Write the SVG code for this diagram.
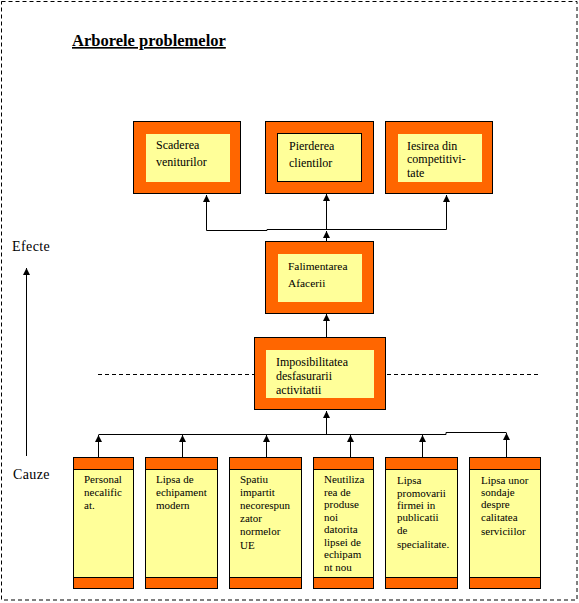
<svg xmlns="http://www.w3.org/2000/svg" width="579" height="603" viewBox="0 0 579 603">
<style>
.t12{font-size:12px}
.t11{font-size:11px}
.or{fill:#FF6600;stroke:#000;stroke-width:1}
.ye{fill:#FFFF99}
.yeb{fill:#FFFF99;stroke:#000;stroke-width:1}
.ln{fill:none;stroke:#000;stroke-width:1}
.ar{fill:none;stroke:#000;stroke-width:1;marker-end:url(#ah)}
.dash{fill:none;stroke:#000;stroke-width:1;stroke-dasharray:4 3}
</style>
<defs>
<marker id="ah" markerUnits="userSpaceOnUse" markerWidth="8" markerHeight="8" refX="7" refY="4" orient="auto">
<path d="M0,0.5 L7,4 L0,7.5 z" fill="#000"/>
</marker>
</defs>
<rect width="579" height="603" fill="#fff"/>
<rect x="1.5" y="1.5" width="575.5" height="598.5" class="dash"/>
<g font-family="'Liberation Serif', 'Times New Roman', 'DejaVu Serif', serif" fill="#000">
<g id="title">
<text x="72" y="46" font-size="16.5" font-weight="bold" text-decoration="underline">Arborele problemelor</text>
</g>
<g id="efecte"><text x="12" y="251" font-size="14" letter-spacing="0.4">Efecte</text></g>
<g id="cauze"><text x="13" y="479" font-size="14" letter-spacing="0.4">Cauze</text></g>
<g id="connectors">
<path class="ar" d="M26.5,456 V268"/>
<path class="ln" d="M206.5,230.5 H267 V229.5 H446.5"/>
<path class="ar" d="M206.5,230.5 V195"/>
<path class="ar" d="M326.5,229.5 V194"/>
<path class="ar" d="M446.5,229.5 V195"/>
<path class="ar" d="M326.5,242 V231"/>
<path class="ar" d="M326.5,337 V314"/>
<path class="ln" d="M98.5,434.5 H446 V432.5 H506.5"/>
<path class="ar" d="M326.5,434.5 V411"/>
<path class="ar" d="M98.5,457 V435"/>
<path class="ar" d="M182.5,457 V435"/>
<path class="ar" d="M266.5,457 V435"/>
<path class="ar" d="M350.5,457 V435"/>
<path class="ar" d="M422.5,457 V435"/>
<path class="ar" d="M506.5,457 V433"/>
<path class="dash" d="M98,374.5 H254 M387,374.5 H540"/>
</g>
<g id="scaderea">
<rect class="or" x="133.5" y="121.5" width="107" height="72"/>
<rect class="ye" x="146" y="134" width="84" height="48"/>
<text class="t12" x="156" y="149">Scaderea</text>
<text class="t12" x="156" y="166">veniturilor</text>
</g>
<g id="pierderea">
<rect class="or" x="265.5" y="121.5" width="108" height="72"/>
<rect class="yeb" x="277.5" y="133.5" width="84" height="48"/>
<text class="t12" x="289" y="150">Pierderea</text>
<text class="t12" x="289" y="167">clientilor</text>
</g>
<g id="iesirea">
<rect class="or" x="385.5" y="121.5" width="107" height="72"/>
<rect class="ye" x="398" y="134" width="84" height="48"/>
<text class="t12" x="407" y="150">Iesirea din</text>
<text class="t12" x="407" y="163">competitivi-</text>
<text class="t12" x="407" y="177">tate</text>
</g>
<g id="falimentarea">
<rect class="or" x="265.5" y="241.5" width="108" height="72"/>
<rect class="ye" x="278" y="254" width="84" height="48"/>
<text x="288" y="270" font-size="11.4">Falimentarea</text>
<text x="288" y="287" font-size="11.4">Afacerii</text>
</g>
<g id="imposibilitatea">
<rect class="or" x="254.5" y="337.5" width="131" height="72"/>
<rect class="ye" x="266" y="350" width="108" height="48"/>
<text class="t12" x="276" y="366">Imposibilitatea</text>
<text class="t12" x="276" y="380">desfasurarii</text>
<text class="t12" x="276" y="394">activitatii</text>
</g>
<g id="personal">
<rect class="yeb" x="73.5" y="457.5" width="60" height="131"/>
<rect class="or" x="73.5" y="457.5" width="60" height="12"/>
<rect class="or" x="73.5" y="577.5" width="60" height="11"/>
<text class="t11" x="84" y="483">Personal</text>
<text class="t11" x="84" y="496">necalific</text>
<text class="t11" x="84" y="509">at.</text>
</g>
<g id="lipsa-echipament">
<rect class="yeb" x="145.5" y="457.5" width="72" height="131"/>
<rect class="or" x="145.5" y="457.5" width="72" height="12"/>
<rect class="or" x="145.5" y="577.5" width="72" height="11"/>
<text class="t11" x="156" y="483">Lipsa de</text>
<text class="t11" x="156" y="496">echipament</text>
<text class="t11" x="156" y="509">modern</text>
</g>
<g id="spatiu">
<rect class="yeb" x="229.5" y="457.5" width="72" height="131"/>
<rect class="or" x="229.5" y="457.5" width="72" height="12"/>
<rect class="or" x="229.5" y="577.5" width="72" height="11"/>
<text class="t11" x="240" y="483">Spatiu</text>
<text class="t11" x="240" y="496">impartit</text>
<text class="t11" x="240" y="509">necorespun</text>
<text class="t11" x="240" y="522">zator</text>
<text class="t11" x="240" y="535">normelor</text>
<text class="t11" x="240" y="549">UE</text>
</g>
<g id="neutilizarea">
<rect class="yeb" x="313.5" y="457.5" width="60" height="131"/>
<rect class="or" x="313.5" y="457.5" width="60" height="12"/>
<rect class="or" x="313.5" y="577.5" width="60" height="11"/>
<text class="t11" x="324" y="483">Neutiliza</text>
<text class="t11" x="324" y="495.5">rea de</text>
<text class="t11" x="324" y="508">produse</text>
<text class="t11" x="324" y="520.5">noi</text>
<text class="t11" x="324" y="533">datorita</text>
<text class="t11" x="324" y="545.5">lipsei de</text>
<text class="t11" x="324" y="558">echipam</text>
<text class="t11" x="324" y="570.5">nt nou</text>
</g>
<g id="lipsa-promovarii">
<rect class="yeb" x="385.5" y="457.5" width="72" height="131"/>
<rect class="or" x="385.5" y="457.5" width="72" height="12"/>
<rect class="or" x="385.5" y="577.5" width="72" height="11"/>
<text class="t11" x="397" y="484">Lipsa</text>
<text class="t11" x="397" y="497">promovarii</text>
<text class="t11" x="397" y="509">firmei in</text>
<text class="t11" x="397" y="521">publicatii</text>
<text class="t11" x="397" y="534">de</text>
<text class="t11" x="397" y="548">specialitate.</text>
</g>
<g id="lipsa-sondaje">
<rect class="yeb" x="469.5" y="457.5" width="71" height="131"/>
<rect class="or" x="469.5" y="457.5" width="71" height="12"/>
<rect class="or" x="469.5" y="577.5" width="71" height="11"/>
<text class="t11" x="481" y="484">Lipsa unor</text>
<text class="t11" x="481" y="496">sondaje</text>
<text class="t11" x="481" y="508">despre</text>
<text class="t11" x="481" y="521">calitatea</text>
<text class="t11" x="481" y="535">serviciilor</text>
</g>
</g>
</svg>
